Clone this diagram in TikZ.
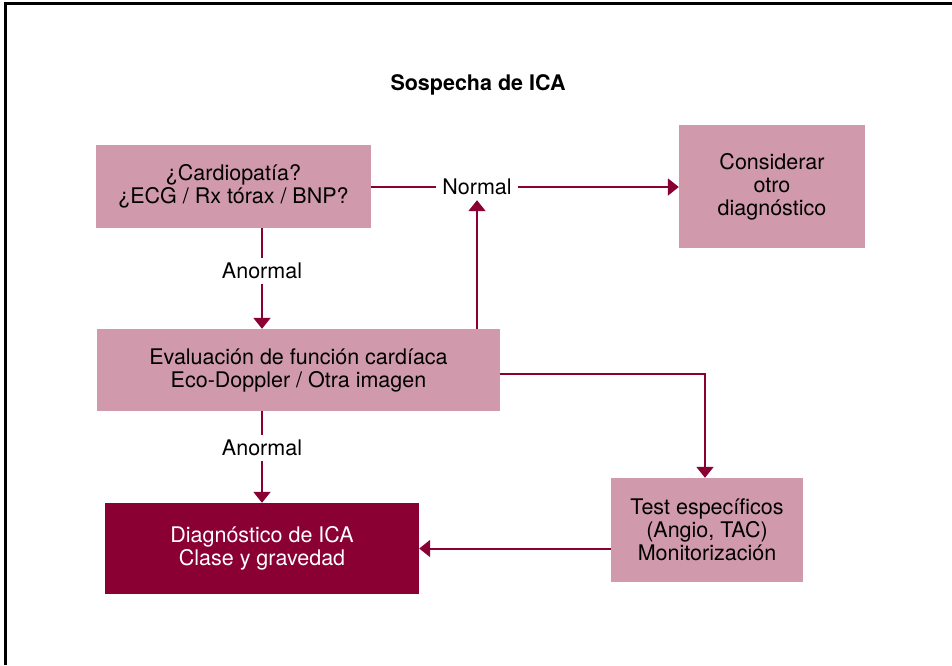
\documentclass[tikz,border=0pt]{standalone}
\usepackage{fontspec}
\setmainfont{TeX Gyre Heros}
\usetikzlibrary{arrows.meta}
\definecolor{boxpink}{HTML}{D09AAC}
\definecolor{wine}{HTML}{8A0032}
\begin{document}
\begin{tikzpicture}[x=1pt, y=-1pt, >={Triangle[length=11pt,width=17pt]},
  every node/.style={font=\fontsize{21.5}{23}\selectfont, align=center},
  stepbox/.style={fill=boxpink, inner sep=0pt},
  endbox/.style={fill=wine, text=white, inner sep=0pt},
  flow/.style={draw=wine, line width=2pt},
  lbl/.style={fill=white, inner xsep=6pt, inner ysep=5pt}]
  \useasboundingbox (0,0) rectangle (952,665);
  % frame, top and left only
  \draw[line width=3pt] (5,665) -- (5,3.5) -- (952,3.5);
  % title
  \node[font=\fontsize{21.5}{23}\selectfont\bfseries] (title) at (478,85) {Sospecha de ICA};
  % boxes
  \node[stepbox, minimum width=275pt, minimum height=83pt] (cardio) at (233.5,186.5)
    {¿Cardiopatía?\\¿ECG / Rx tórax / BNP?};
  \node[stepbox, minimum width=186pt, minimum height=123pt] (otro) at (772,186.5)
    {Considerar\\otro\\diagnóstico};
  \node[stepbox, minimum width=403pt, minimum height=82pt] (eval) at (298.5,370)
    {Evaluación de función cardíaca\\Eco-Doppler / Otra imagen};
  \node[stepbox, minimum width=192pt, minimum height=104pt] (test) at (707,530)
    {Test específicos\\(Angio, TAC)\\Monitorización};
  \node[endbox, minimum width=314pt, minimum height=91pt] (diag) at (262,548.5)
    {Diagnóstico de ICA\\Clase y gravedad};
  % labels on connectors
  \node[lbl] (normal) at (477,187) {Normal};
  \node[lbl] (anorm1) at (262,271) {Anormal};
  \node[lbl] (anorm2) at (262,448) {Anormal};
  % connectors
  \draw[flow] (cardio.east |- normal) -- (normal.west);
  \draw[flow, ->] (normal.east) -- (otro.west |- normal);
  \draw[flow, ->] (eval.north -| normal) -- (normal.south);
  \draw[flow] (cardio.south -| anorm1) -- (anorm1.north);
  \draw[flow, ->] (anorm1.south) -- (anorm1 |- eval.north);
  \draw[flow] (eval.south -| anorm2) -- (anorm2.north);
  \draw[flow, ->] (anorm2.south) -- (anorm2 |- diag.north);
  \draw[flow, ->] ([yshift=-4pt]eval.east) -| ([xshift=-2pt]test.north);
  \draw[flow, ->] (test.west |- diag) -- (diag.east);
\end{tikzpicture}
\end{document}
